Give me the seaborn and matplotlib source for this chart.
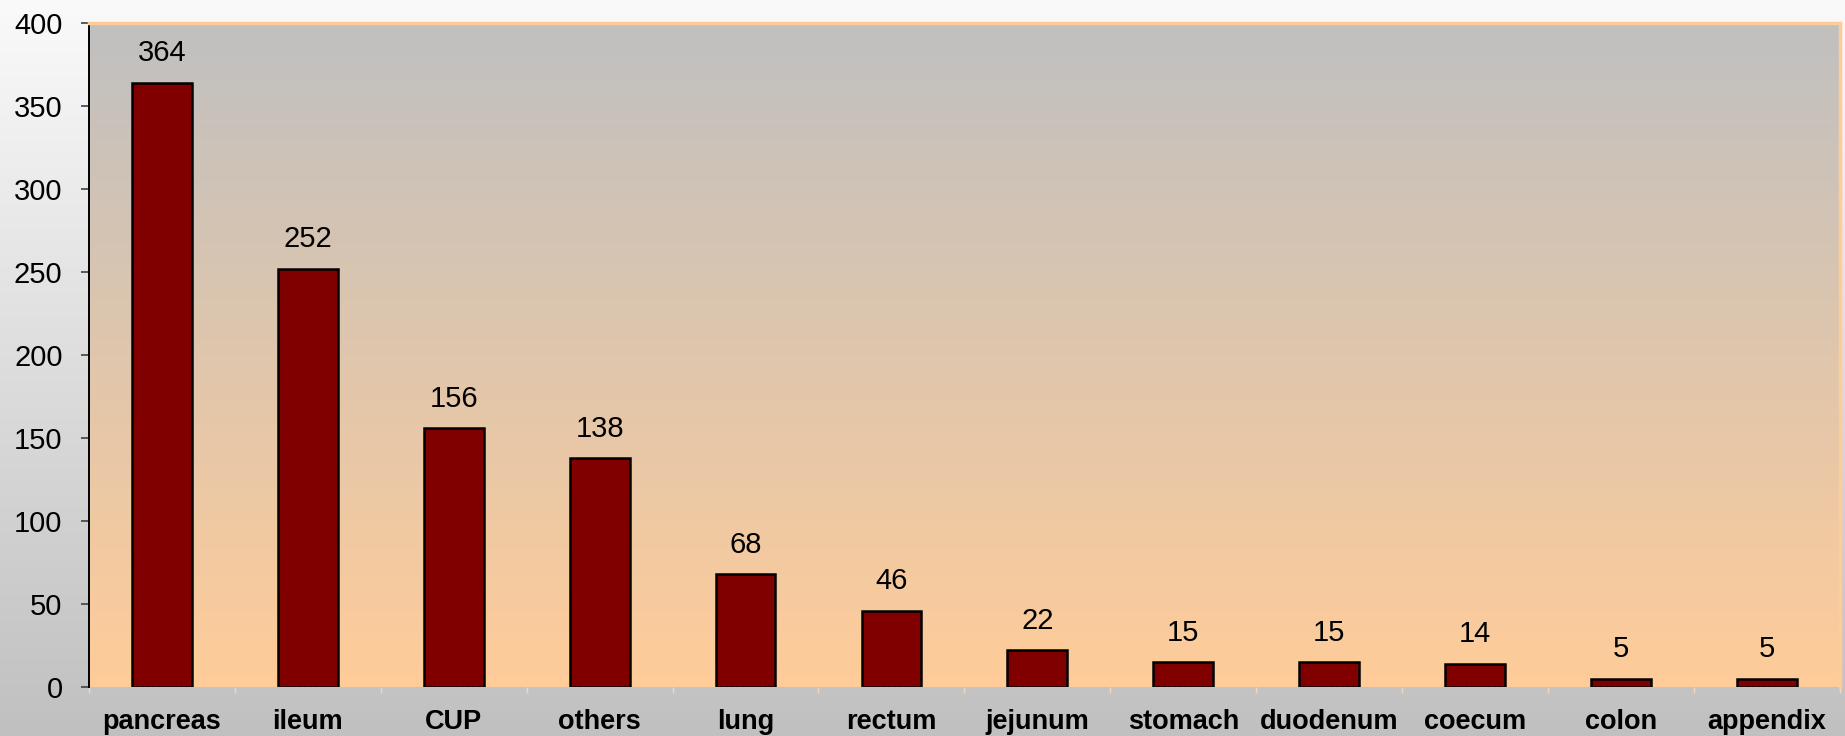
import numpy as np
import pandas as pd
import matplotlib
matplotlib.use("Agg")
import matplotlib.pyplot as plt
from matplotlib.colors import LinearSegmentedColormap
import seaborn as sns

# Primary tumour sites and patient counts
sites = ["pancreas", "ileum", "CUP", "others", "lung", "rectum",
         "jejunum", "stomach", "duodenum", "coecum", "colon", "appendix"]
counts = [364, 252, 156, 138, 68, 46, 22, 15, 15, 14, 5, 5]

y_ticks = [0, 50, 100, 150, 200, 250, 300, 350, 400]

sns.set_theme(style="white")
plt.rcParams["font.family"] = ["Liberation Sans", "DejaVu Sans"]
plt.rcParams["text.color"] = "black"
plt.rcParams["xtick.color"] = "black"
plt.rcParams["ytick.color"] = "black"

df = pd.DataFrame({"site": sites, "count": counts})

fig = plt.figure(figsize=(18.45, 7.36), dpi=100)

# Figure background: near-white at top fading to grey
bg = fig.add_axes([0, 0, 1, 1], zorder=-10)
bg_cmap = LinearSegmentedColormap.from_list("bg", ["#c0c0c0", "#fafafa"])
bg.imshow(np.linspace(0, 1, 256).reshape(-1, 1), cmap=bg_cmap, aspect="auto",
          origin="lower", extent=[0, 1, 0, 1])
bg.set_axis_off()

ax = fig.add_axes([0.0482, 0.0666, 0.9490, 0.9022])
ax.set_facecolor("none")

# Plot area: grey at top fading to peach at the baseline
area_cmap = LinearSegmentedColormap.from_list("area", ["#ffcc99", "#c0c0c0"])
ax.imshow(np.linspace(0, 1, 256).reshape(-1, 1), cmap=area_cmap, aspect="auto",
          origin="lower", extent=[0, 1, 0, 1], transform=ax.transAxes, zorder=0)

sns.barplot(data=df, x="site", y="count", ax=ax, color="#800000",
            saturation=1, width=0.41, edgecolor="black", linewidth=1.8,
            zorder=2)

# Dashed baseline along the foot of each bar
for p in ax.patches:
    x0 = p.get_x()
    ax.plot([x0, x0 + p.get_width()], [0, 0], color="#e8c8a8",
            linewidth=0.8, linestyle=(0, (3, 2)), zorder=3,
            solid_capstyle="butt")

ax.set_xlim(-0.5, len(sites) - 0.5)
ax.set_ylim(0, 400)
ax.set_yticks(y_ticks)
ax.set_yticklabels([str(t) for t in y_ticks], fontsize=21, color="black")
ax.set_xticks(range(len(sites)))
ax.set_xticklabels(sites, fontsize=19.5, fontweight="bold", color="black")
ax.set_xlabel("")
ax.set_ylabel("")

ax.tick_params(axis="y", which="major", left=True, length=6, width=1.2,
               color="#404040", pad=13)
ax.tick_params(axis="x", which="major", bottom=False, pad=10)
ax.set_xticks(np.arange(-0.5, len(sites), 1.0), minor=True)
ax.tick_params(axis="x", which="minor", bottom=True, length=4, width=1,
               color="#f0d8c0", direction="out")

for side in ("top", "right"):
    ax.spines[side].set_visible(True)
    ax.spines[side].set_color("#ffcc99")
    ax.spines[side].set_linewidth(2.5)
ax.spines["left"].set_color("black")
ax.spines["left"].set_linewidth(1.4)
ax.spines["bottom"].set_visible(False)

# Value labels above each bar
for i, v in enumerate(counts):
    ax.annotate(str(v), xy=(i, v), xytext=(0, 11), textcoords="offset points",
                ha="center", va="bottom", fontsize=21, color="black", zorder=4)

fig.savefig("out.png", dpi=100)
